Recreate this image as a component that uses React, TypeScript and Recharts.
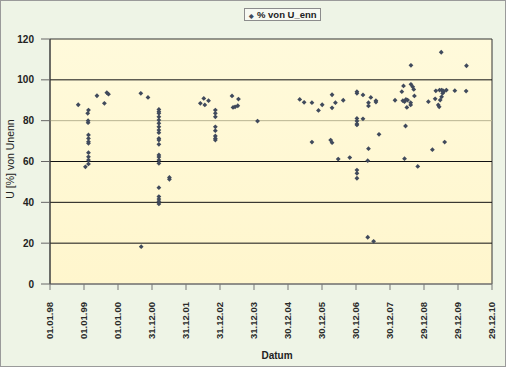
import React from 'react';
import { ScatterChart, Scatter, XAxis, YAxis, ReferenceArea, ReferenceLine, Legend } from 'recharts';

// measurement dates as decimal years, and U in % of U_nenn
const dateYears = [
  1998.83, 1999.04, 1999.13, 1999.11, 1999.12, 1999.12, 1999.13, 1999.13, 1999.13, 1999.13,
  1999.13, 1999.13, 1999.13, 1999.13, 1999.38, 1999.6, 1999.67, 1999.72, 2000.67, 2000.88,
  2000.68,
  2001.2, 2001.2, 2001.2, 2001.2, 2001.2, 2001.2, 2001.2, 2001.2, 2001.2, 2001.2,
  2001.2, 2001.2, 2001.2, 2001.2, 2001.2, 2001.2, 2001.2, 2001.2, 2001.2, 2001.2, 2001.2,
  2001.51, 2001.51,
  2002.42, 2002.52, 2002.55, 2002.66,
  2002.86, 2002.86, 2002.86, 2002.86, 2002.86, 2002.86, 2002.86, 2002.86,
  2003.35, 2003.38, 2003.44, 2003.52, 2003.54, 2004.1,
  2005.34, 2005.47, 2005.7, 2005.89, 2006.0, 2006.29, 2006.39, 2006.29, 2006.62,
  2005.7, 2006.25, 2006.29, 2006.47, 2006.81,
  2007.02, 2007.02, 2007.02, 2007.02, 2007.02, 2007.02, 2007.02, 2007.02, 2007.02,
  2007.2, 2007.2, 2007.43, 2007.36, 2007.36, 2007.58, 2007.58, 2007.67, 2007.36, 2007.34,
  2007.34, 2007.51,
  2008.14, 2008.34, 2008.39, 2008.61, 2008.66, 2008.69, 2008.71, 2008.37, 2008.42, 2008.46,
  2008.51, 2008.6, 2008.6, 2008.49, 2008.45, 2008.42, 2008.81, 2008.61,
  2009.5, 2010.24, 2010.23, 2009.12, 2009.24, 2009.32, 2009.34, 2009.41, 2009.44, 2009.47,
  2009.51, 2009.54, 2009.57, 2009.45, 2009.51, 2009.55, 2009.65, 2009.6, 2009.9,
];

const uPercent = [
  87.8, 57.4, 85.2, 83.6, 80.0, 79.0, 73.0, 71.3, 69.7, 68.9,
  64.3, 62.3, 60.7, 58.8, 92.2, 88.5, 93.7, 93.0, 93.4, 91.4,
  18.3,
  85.5, 84.4, 83.6, 81.9, 80.3, 78.7, 77.0, 75.4, 74.1, 71.3,
  70.5, 68.4, 63.2, 62.2, 60.7, 59.1, 47.2, 42.8, 41.6, 40.5, 39.2,
  52.2, 51.3,
  88.5, 90.9, 87.7, 89.8,
  85.2, 83.6, 81.9, 77.0, 75.1, 72.5, 71.3, 70.5,
  92.1, 86.5, 86.8, 87.3, 90.6, 79.8,
  90.4, 89.0, 88.8, 85.0, 87.8, 92.7, 88.8, 86.3, 90.0,
  69.5, 70.5, 69.2, 61.2, 61.9,
  94.2, 93.4, 81.1, 79.8, 78.4, 77.9, 55.8, 54.2, 51.8,
  92.6, 80.9, 91.4, 88.8, 87.2, 89.8, 89.1, 73.3, 66.3, 60.4,
  22.9, 20.9,
  90.0, 94.2, 97.0, 97.8, 96.6, 95.3, 92.1, 89.8, 89.3, 90.4,
  90.1, 88.8, 87.7, 86.5, 77.4, 61.4, 57.6, 107.1,
  113.5, 106.9, 94.5, 89.3, 65.8, 90.7, 94.6, 87.7, 86.8, 90.1,
  91.7, 93.4, 94.2, 95.0, 95.0, 94.7, 95.0, 69.5, 94.7,
];

const yTicks = [0, 20, 40, 60, 80, 100, 120];
const xTickCount = 14; // one tick every 365 days from 01.01.98

const DAY = 86400000;
const START = Date.UTC(1998, 0, 1);

const data = dateYears.map((yr, i) => ({
  day: Math.round((yr - 1998) * 365.25),
  u: uPercent[i],
}));

const xTicks = Array.from({ length: xTickCount }, (_, i) => i * 365);

function formatDay(v: number) {
  const d = new Date(START + v * DAY);
  const dd = String(d.getUTCDate()).padStart(2, '0');
  const mm = String(d.getUTCMonth() + 1).padStart(2, '0');
  const yy = String(d.getUTCFullYear() % 100).padStart(2, '0');
  return `${dd}.${mm}.${yy}`;
}

const FONT = '"Liberation Sans", Arial, sans-serif';
const MARK = '#404a5c';

const Diamond = (props: any) => {
  const { cx, cy } = props;
  const r = 2.4;
  return <polygon points={`${cx},${cy - r} ${cx + r},${cy} ${cx},${cy + r} ${cx - r},${cy}`} fill={MARK} />;
};

const XTick = (props: any) => {
  const { x, y, payload } = props;
  return (
    <g transform={`translate(${x},${y})`}>
      <text transform="rotate(-90)" textAnchor="end" dy="0.35em" fontSize={9.5} fontWeight="bold" fontFamily={FONT} fill="#2a2a2a">
        {formatDay(payload.value)}
      </text>
    </g>
  );
};

const LegendBox = () => (
  <div style={{
    border: '1px solid #8c8c8c', background: '#f7f9f2', padding: '0 3px 0 4px', height: 11,
    lineHeight: '11px', fontFamily: FONT, fontSize: 9.5, fontWeight: 'bold', color: '#222', whiteSpace: 'nowrap',
  }}>
    <span style={{ fontSize: 6, color: MARK, marginRight: 3 }}>◆</span>% von U_enn
  </div>
);

export default function App() {
  return (
    <div style={{ position: 'absolute', left: 0, top: 0, width: 504, height: 365, background: '#eef4e6', border: '1px solid #9a9a9a' }}>
      <ScatterChart width={504} height={365} margin={{ top: 25, right: 13, bottom: 0, left: 0 }}>
        <defs>
          <linearGradient id="plotBg" x1="0" y1="0" x2="0" y2="1">
            <stop offset="0%" stopColor="#fffadb" />
            <stop offset="100%" stopColor="#fff6cd" />
          </linearGradient>
        </defs>
        <XAxis
          type="number"
          dataKey="day"
          domain={[0, 4745]}
          ticks={xTicks}
          interval={0}
          height={82}
          tickSize={6}
          tickMargin={12}
          tickLine={{ stroke: '#777' }}
          axisLine={{ stroke: '#8a8a8a' }}
          tick={<XTick />}
          label={() => (
            <text x={276} y={358} textAnchor="middle" fontSize={10} fontWeight="bold" fontFamily={FONT} fill="#222">Datum</text>
          )}
        />
        <YAxis
          type="number"
          dataKey="u"
          domain={[0, 120]}
          ticks={yTicks}
          interval={0}
          width={49}
          tickSize={9}
          tickMargin={7}
          tickLine={{ stroke: '#666' }}
          axisLine={{ stroke: '#444' }}
          tick={{ fontSize: 10, fontWeight: 'bold', fontFamily: FONT, fill: '#222' }}
          label={() => (
            <text x={13} y={158} transform="rotate(-90 13 158)" textAnchor="middle" fontSize={10.5} fontFamily={FONT} fill="#222">U [%] von Unenn</text>
          )}
        />
        <ReferenceArea x1={0} x2={4745} y1={0} y2={120} fill="url(#plotBg)" fillOpacity={1} stroke="#333" strokeWidth={1} />
        <ReferenceLine y={20} stroke="#111" />
        <ReferenceLine y={40} stroke="#111" />
        <ReferenceLine y={60} stroke="#111" />
        <ReferenceLine y={80} stroke="#b9b592" />
        <ReferenceLine y={100} stroke="#111" />
        <Legend layout="vertical" align="center" verticalAlign="top" content={<LegendBox />} wrapperStyle={{ top: 7, left: 243, width: 'auto' }} />
        <Scatter name="% von U_enn" data={data} shape={<Diamond />} isAnimationActive={false} />
      </ScatterChart>
    </div>
  );
}
